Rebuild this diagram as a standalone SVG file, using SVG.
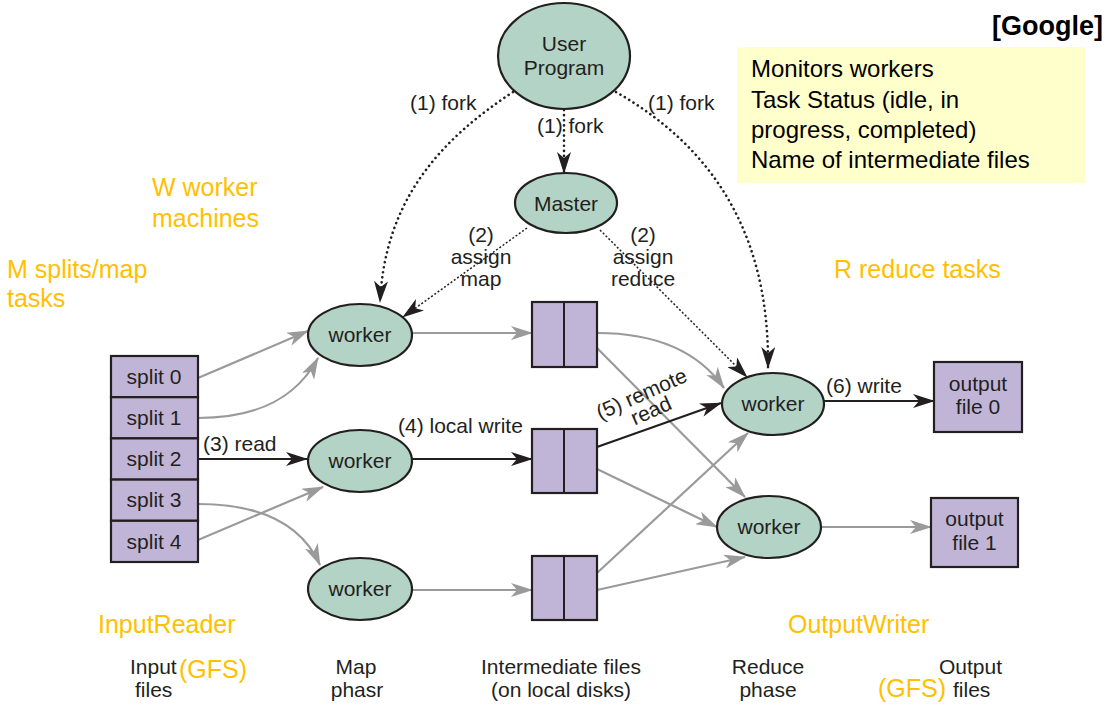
<svg xmlns="http://www.w3.org/2000/svg" width="1117" height="707" viewBox="0 0 1117 707">
<defs>
<marker id="ab" viewBox="0 0 22 14" refX="21" refY="7" markerWidth="22" markerHeight="14" markerUnits="userSpaceOnUse" orient="auto"><path d="M0,0 L22,7 L0,14 L6,7 Z" fill="#231f20"/></marker>
<marker id="ag" viewBox="0 0 22 14" refX="21" refY="7" markerWidth="22" markerHeight="14" markerUnits="userSpaceOnUse" orient="auto"><path d="M0,0 L22,7 L0,14 L6,7 Z" fill="#9a9a9a"/></marker>
<style>
.t{font-family:"Liberation Sans",Arial,sans-serif;font-size:21px;fill:#231f20}
.m{text-anchor:middle}
.o{font-family:"Liberation Sans",Arial,sans-serif;font-size:25px;fill:#FFC000}
.n{font-family:"Liberation Sans",Arial,sans-serif;font-size:24px;fill:#000}
.el{fill:#b2d3c5;stroke:#231f20;stroke-width:2.2}
.bx{fill:#c1b5d7;stroke:#231f20;stroke-width:2.2}
.g{fill:none;stroke:#9a9a9a;stroke-width:2.2;marker-end:url(#ag)}
.k{fill:none;stroke:#231f20;stroke-width:2.2;marker-end:url(#ab)}
.d{fill:none;stroke:#231f20;stroke-width:2.6;stroke-dasharray:0.1 5;stroke-linecap:round;marker-end:url(#ab)}
.f{fill:none;stroke:#231f20;stroke-width:1.5;stroke-dasharray:2 2;marker-end:url(#ab)}
</style>
</defs>
<rect width="1117" height="707" fill="#fff"/>

<g id="connectors">
<path class="d" d="M564,110 L564,173"/>
<path class="d" d="M513,92 C440,140 385,200 380,302"/>
<path class="d" d="M616,92 C700,140 770,220 768,368"/>
<path class="f" d="M527,228 L403,317"/>
<path class="f" d="M600,230 L747,377"/>
<path class="g" d="M198,378 L308,331"/>
<path class="g" d="M198,418 C262,418 298,395 318,358"/>
<path class="k" d="M198,459 L307,459"/>
<path class="g" d="M198,504 C262,504 302,525 320,565"/>
<path class="g" d="M198,540 L323,487"/>
<path class="g" d="M412,333 L532,333"/>
<path class="k" d="M412,459 L532,459"/>
<path class="g" d="M412,590 L532,590"/>
<path class="g" d="M597,333 C665,333 703,358 724,388"/>
<path class="g" d="M597,348 L745,497"/>
<path class="k" d="M597,447 L721,403"/>
<path class="g" d="M597,469 L717,527"/>
<path class="g" d="M597,573 L748,433"/>
<path class="g" d="M597,590 L745,557"/>
<path class="k" d="M824,401 L934,401"/>
<path class="g" d="M821,527 L931,527"/>
</g>

<g id="edge-labels">
<text class="t" x="410" y="110">(1) fork</text>
<text class="t" x="537" y="133">(1) fork</text>
<text class="t" x="648" y="110">(1) fork</text>
<text class="t m" x="481" y="242">(2)</text>
<text class="t m" x="481" y="264">assign</text>
<text class="t m" x="481" y="286">map</text>
<text class="t m" x="643" y="242">(2)</text>
<text class="t m" x="643" y="264">assign</text>
<text class="t m" x="643" y="286">reduce</text>
<text class="t" x="203" y="451">(3) read</text>
<text class="t" x="398" y="433">(4) local write</text>
<g transform="translate(642,395) rotate(-24)">
<text class="t m" x="0" y="6">(5) remote</text>
<text class="t m" x="2" y="25">read</text>
</g>
<text class="t" x="826" y="393">(6) write</text>
</g>

<g id="user-program">
<ellipse class="el" cx="564" cy="56" rx="66" ry="53"/>
<text class="t m" x="564" y="51">User</text>
<text class="t m" x="564" y="75">Program</text>
</g>
<g id="master">
<ellipse class="el" cx="566" cy="203" rx="51" ry="30"/>
<text class="t m" x="566" y="211">Master</text>
</g>

<g id="splits">
<rect class="bx" x="111" y="356" width="87" height="41.2"/>
<rect class="bx" x="111" y="397.2" width="87" height="41.2"/>
<rect class="bx" x="111" y="438.4" width="87" height="41.2"/>
<rect class="bx" x="111" y="479.6" width="87" height="41.2"/>
<rect class="bx" x="111" y="520.8" width="87" height="41.2"/>
<text class="t m" x="154" y="384">split 0</text>
<text class="t m" x="154" y="425">split 1</text>
<text class="t m" x="154" y="466">split 2</text>
<text class="t m" x="154" y="507">split 3</text>
<text class="t m" x="154" y="549">split 4</text>
</g>

<g id="map-worker-1">
<ellipse class="el" cx="360" cy="335" rx="52" ry="31"/>
<text class="t m" x="360" y="342">worker</text>
</g>
<g id="map-worker-2">
<ellipse class="el" cx="360" cy="461" rx="52" ry="31"/>
<text class="t m" x="360" y="468">worker</text>
</g>
<g id="map-worker-3">
<ellipse class="el" cx="360" cy="589" rx="52" ry="31"/>
<text class="t m" x="360" y="596">worker</text>
</g>

<g id="intermediate-1">
<rect class="bx" x="532" y="302" width="65" height="65"/>
<line x1="564" y1="302" x2="564" y2="367" stroke="#231f20" stroke-width="2"/>
</g>
<g id="intermediate-2">
<rect class="bx" x="532" y="429" width="65" height="64"/>
<line x1="564" y1="429" x2="564" y2="493" stroke="#231f20" stroke-width="2"/>
</g>
<g id="intermediate-3">
<rect class="bx" x="532" y="556" width="65" height="64"/>
<line x1="564" y1="556" x2="564" y2="620" stroke="#231f20" stroke-width="2"/>
</g>

<g id="reduce-worker-1">
<ellipse class="el" cx="773" cy="404" rx="51" ry="31"/>
<text class="t m" x="773" y="411">worker</text>
</g>
<g id="reduce-worker-2">
<ellipse class="el" cx="769" cy="527" rx="52" ry="31"/>
<text class="t m" x="769" y="534">worker</text>
</g>

<g id="output-file-0">
<rect class="bx" x="934" y="362" width="88" height="70"/>
<text class="t m" x="978" y="391">output</text>
<text class="t m" x="978" y="414">file 0</text>
</g>
<g id="output-file-1">
<rect class="bx" x="931" y="498" width="87" height="69"/>
<text class="t m" x="974.5" y="526">output</text>
<text class="t m" x="974.5" y="550">file 1</text>
</g>

<g id="master-note">
<rect x="737" y="47" width="348" height="136" fill="#ffffcc"/>
<text class="n" x="751" y="77">Monitors workers</text>
<text class="n" x="751" y="108">Task Status (idle, in</text>
<text class="n" x="751" y="138">progress, completed)</text>
<text class="n" x="751" y="168">Name of intermediate files</text>
</g>
<text x="1103" y="35" text-anchor="end" font-family="Liberation Sans, Arial, sans-serif" font-size="27" font-weight="bold" fill="#000">[Google]</text>

<g id="annotations">
<text class="o" x="152" y="196">W worker</text>
<text class="o" x="152" y="227">machines</text>
<text class="o" x="7" y="278">M splits/map</text>
<text class="o" x="7" y="307">tasks</text>
<text class="o" x="834" y="278">R reduce tasks</text>
<text class="o" x="98" y="633">InputReader</text>
<text class="o" x="788" y="633">OutputWriter</text>
<text class="o" x="179" y="678">(GFS)</text>
<text class="o" x="878" y="697">(GFS)</text>
</g>

<g id="phase-labels">
<text class="t" x="130" y="674">Input</text>
<text class="t" x="135" y="697">files</text>
<text class="t m" x="356" y="674">Map</text>
<text class="t m" x="357" y="697">phasr</text>
<text class="t m" x="561" y="674">Intermediate files</text>
<text class="t m" x="561" y="697">(on local disks)</text>
<text class="t m" x="768" y="674">Reduce</text>
<text class="t m" x="768" y="697">phase</text>
<text class="t" x="939" y="674">Output</text>
<text class="t" x="953" y="697">files</text>
</g>
</svg>
